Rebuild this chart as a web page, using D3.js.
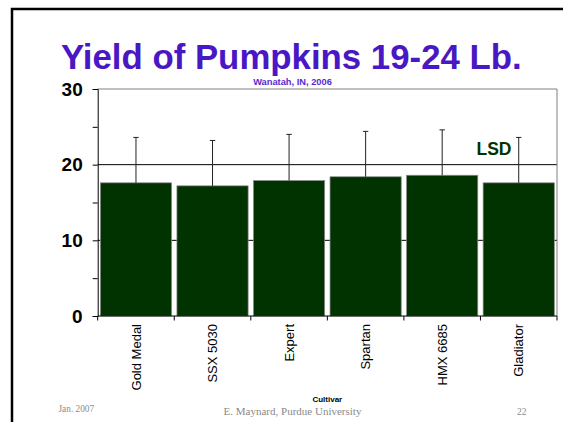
<!DOCTYPE html>
<html lang="en">

<head>
    <meta charset="UTF-8">
    <title>Yield of Pumpkins 19-24 Lb.</title>
    <script src="https://cdn.jsdelivr.net/npm/d3@7"></script>
    <style>
        body {
            margin: 0;
            background: #fff;
        }

        .bar {
            fill: #003300;
            stroke: #8a8a8a;
            stroke-width: 0.75;
        }
    </style>
</head>

<body>
    <svg width="563" height="422" id="svg1"></svg>
</body>
<script>
    // data
    var cultivars = ["Gold Medal", "SSX 5030", "Expert", "Spartan", "HMX 6685", "Gladiator"];
    var yields = [17.6, 17.2, 17.9, 18.4, 18.6, 17.6];
    var lsdBars = [6.0, 6.0, 6.1, 6.0, 6.0, 6.0];
    var yTicks = [0, 10, 20, 30];
    var yMinorTicks = [5, 15, 25];
    var gridValues = [10, 20];

    var svg = d3.select("#svg1");
    // note: "top" is reserved on window, so use plot* names
    var plotLeft = 97.7, plotRight = 557, plotTop = 89, plotBottom = 316;

    // slide frame
    svg.append("rect")
        .attr("x", 12).attr("y", 9)
        .attr("width", 700).attr("height", 600)
        .attr("fill", "none")
        .attr("stroke", "#000")
        .attr("stroke-width", 2.5);

    svg.append("text")
        .attr("x", 291.3)
        .attr("y", 69)
        .attr("text-anchor", "middle")
        .attr("font-family", "'Liberation Sans', Arial, sans-serif")
        .attr("font-weight", "bold")
        .attr("font-size", "34.8px")
        .attr("fill", "#4A17C4")
        .text("Yield of Pumpkins 19-24 Lb.");

    svg.append("text")
        .attr("x", 292.5)
        .attr("y", 85.3)
        .attr("text-anchor", "middle")
        .attr("font-family", "'Liberation Sans', Arial, sans-serif")
        .attr("font-weight", "bold")
        .attr("font-size", "9.3px")
        .attr("fill", "#5A2AD0")
        .text("Wanatah, IN, 2006");

    var xScale = d3.scaleBand().domain(cultivars).range([plotLeft, plotRight])
        .paddingInner(0.07).paddingOuter(0.035);
    var yScale = d3.scaleLinear().domain([0, 30]).range([plotBottom, plotTop]);

    // gridlines
    svg.append("g").selectAll("line")
        .data(gridValues)
        .enter().append("line")
        .attr("x1", plotLeft).attr("x2", plotRight)
        .attr("y1", function (d) { return yScale(d); })
        .attr("y2", function (d) { return yScale(d); })
        .attr("stroke", "#000")
        .attr("stroke-width", 1);

    // plot frame top + right
    svg.append("path")
        .attr("d", "M" + plotLeft + "," + yScale(30) + "H" + plotRight + "V" + plotBottom)
        .attr("fill", "none")
        .attr("stroke", "#808080")
        .attr("stroke-width", 1);

    svg.append("g").selectAll(".bar")
        .data(yields)
        .enter().append("rect")
        .attr("class", "bar")
        .attr("x", function (d, i) { return xScale(cultivars[i]); })
        .attr("y", function (d) { return yScale(d); })
        .attr("width", xScale.bandwidth())
        .attr("height", function (d) { return plotBottom - yScale(d); });

    // error bars (LSD)
    var eb = svg.append("g").attr("stroke", "#222").attr("stroke-width", 1);
    yields.forEach(function (d, i) {
        var cx = xScale(cultivars[i]) + xScale.bandwidth() / 2;
        eb.append("line")
            .attr("x1", cx).attr("x2", cx)
            .attr("y1", yScale(d)).attr("y2", yScale(d + lsdBars[i]));
        eb.append("line")
            .attr("x1", cx - 2.7).attr("x2", cx + 2.7)
            .attr("y1", yScale(d + lsdBars[i])).attr("y2", yScale(d + lsdBars[i]));
    });

    svg.append("text")
        .attr("x", 476.5)
        .attr("y", 155)
        .attr("font-family", "'Liberation Sans', Arial, sans-serif")
        .attr("font-weight", "bold")
        .attr("font-size", "17.5px")
        .attr("fill", "#003300")
        .text("LSD");

    // y axis
    var yAxis = svg.append("g")
        .attr("transform", "translate(" + plotLeft + ",0)")
        .call(d3.axisLeft(yScale).tickValues(yTicks).tickSize(5).tickPadding(10));
    yAxis.select(".domain").attr("stroke", "#000");
    yAxis.selectAll("text")
        .attr("font-family", "'Liberation Sans', Arial, sans-serif")
        .attr("font-weight", "bold")
        .attr("font-size", "19px")
        .attr("fill", "#000");

    svg.append("g")
        .attr("transform", "translate(" + plotLeft + ",0)")
        .call(d3.axisLeft(yScale).tickValues(yMinorTicks).tickSize(5).tickFormat(""))
        .select(".domain").remove();

    // x axis
    var step = xScale.step();
    var bounds = d3.range(cultivars.length + 1).map(function (i) { return plotLeft + i * step; });
    svg.append("line")
        .attr("x1", plotLeft).attr("x2", plotRight)
        .attr("y1", plotBottom).attr("y2", plotBottom)
        .attr("stroke", "#000");
    svg.append("g").selectAll("line")
        .data(bounds)
        .enter().append("line")
        .attr("x1", function (d) { return d; })
        .attr("x2", function (d) { return d; })
        .attr("y1", plotBottom).attr("y2", plotBottom + 4.5)
        .attr("stroke", "#000");

    svg.append("g").selectAll("text")
        .data(cultivars)
        .enter().append("text")
        .attr("transform", function (d) {
            return "translate(" + (xScale(d) + xScale.bandwidth() / 2) + "," + 324 + ") rotate(-90)";
        })
        .attr("dy", "0.36em")
        .attr("text-anchor", "end")
        .attr("font-family", "'Liberation Sans', Arial, sans-serif")
        .attr("font-size", "13px")
        .attr("fill", "#000")
        .text(function (d) { return d; });

    svg.append("text")
        .attr("x", (plotLeft + plotRight) / 2)
        .attr("y", 402.3)
        .attr("text-anchor", "middle")
        .attr("font-family", "'Liberation Sans', Arial, sans-serif")
        .attr("font-weight", "bold")
        .attr("font-size", "8px")
        .text("Cultivar");

    // footer
    var footer = svg.append("g")
        .attr("font-family", "'Liberation Serif', 'Times New Roman', serif")
        .attr("fill", "#8a8a8a");
    footer.append("text").attr("x", 58.5).attr("y", 411.5)
        .attr("font-size", "9.3px").text("Jan. 2007");
    footer.append("text").attr("x", 292.5).attr("y", 414.5)
        .attr("text-anchor", "middle")
        .attr("font-size", "11px").text("E. Maynard, Purdue University");
    footer.append("text").attr("x", 526.5).attr("y", 415)
        .attr("text-anchor", "end")
        .attr("font-size", "9.5px").text("22");
</script>

</html>
